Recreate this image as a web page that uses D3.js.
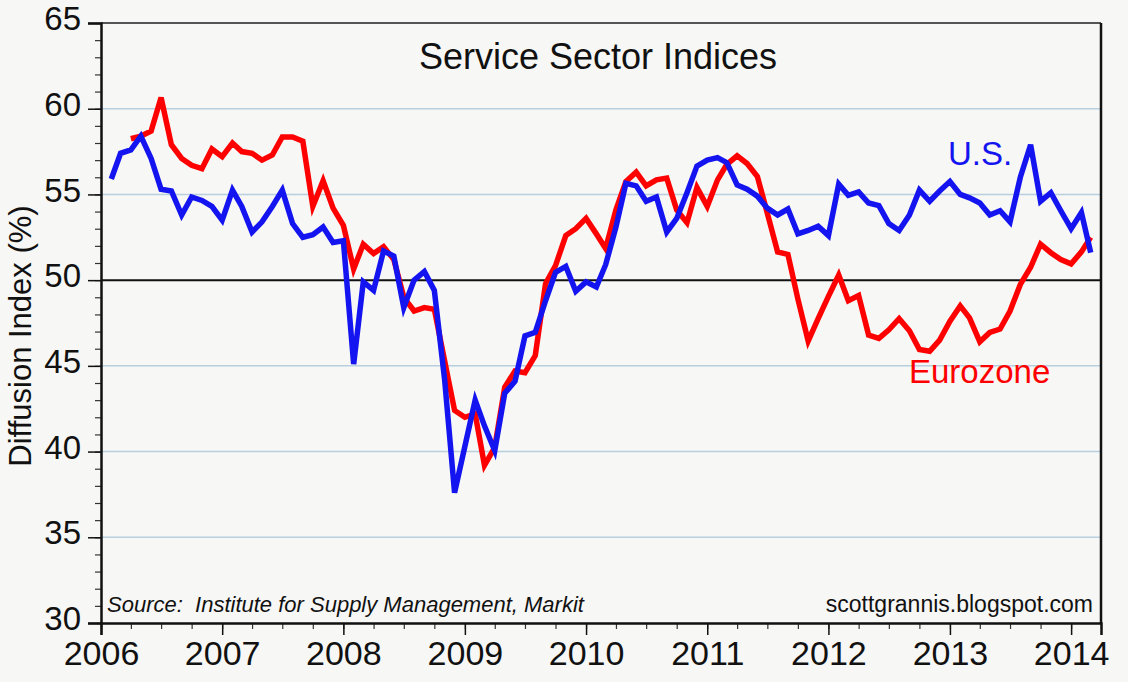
<!DOCTYPE html>
<html>
<head>
<meta charset="utf-8">
<script src="https://cdn.jsdelivr.net/npm/d3@7"></script>
<style>
  body { margin: 0; background: #f7f7f5; }
  svg { display: block; }
  text { font-family: "Liberation Sans", Arial, sans-serif; }
</style>
</head>
<body>
<div id="chart"></div>
<script>
// monthly readings, first value = Jan 2006
const startMonth = "2006-01";

const usValues = [
  55.9, 57.4, 57.6, 58.4, 57.1, 55.3, 55.2, 53.8, 54.85, 54.65, 54.3, 53.5,
  55.25, 54.3, 52.8, 53.4, 54.3, 55.25, 53.3, 52.5, 52.65, 53.1, 52.2, 52.3,
  45.1, 49.9, 49.4, 51.7, 51.4, 48.4, 50.0, 50.5, 49.4, 44.2, 37.6, 40.3,
  43.0, 41.5, 40.05, 43.4, 44.1, 46.75, 46.95, 48.8, 50.45, 50.8, 49.35, 49.9,
  49.6, 50.9, 53.1, 55.65, 55.5, 54.6, 54.85, 52.8, 53.6, 55.1, 56.65, 57.0,
  57.15, 56.85, 55.55, 55.3, 54.9, 54.2, 53.8, 54.15, 52.7, 52.9, 53.15, 52.6,
  55.6, 54.95, 55.15, 54.5, 54.35, 53.3, 52.9, 53.8, 55.25, 54.6, 55.2, 55.75,
  55.0, 54.8, 54.5, 53.8, 54.05, 53.4, 56.0, 57.9, 54.6, 55.1, 54.05, 53.0,
  53.95, 51.6
];

const ezValues = [
  null, null, 58.25, 58.4, 58.7, 60.65, 57.9, 57.1, 56.7, 56.5, 57.65, 57.2,
  58.0, 57.5, 57.4, 57.0, 57.3, 58.35, 58.35, 58.1, 54.3, 55.8, 54.2, 53.2,
  50.65, 52.1, 51.55, 51.95, 51.2, 49.0, 48.2, 48.4, 48.3, 45.3, 42.4, 42.0,
  42.2, 39.2, 40.25, 43.75, 44.7, 44.6, 45.6, 49.8, 50.85, 52.6, 53.0, 53.6,
  52.7, 51.85, 54.1, 55.75, 56.3, 55.5, 55.85, 55.95, 54.1, 53.35, 55.4, 54.3,
  55.85, 56.75, 57.25, 56.8, 56.05, 53.9, 51.65, 51.5, 48.9, 46.45, 47.75, 49.05,
  50.3, 48.8, 49.1, 46.8, 46.6, 47.1, 47.75, 47.05, 45.95, 45.85, 46.5, 47.6,
  48.5, 47.8, 46.4, 46.95, 47.15, 48.2, 49.75, 50.75, 52.1, 51.6, 51.2, 50.95,
  51.65, 52.5
];

const yTicks = [30, 35, 40, 45, 50, 55, 60, 65];
const yearTicks = [2006, 2007, 2008, 2009, 2010, 2011, 2012, 2013, 2014];

const W = 1128, H = 682;
const margin = {top: 23, right: 27, bottom: 59, left: 101};

const svg = d3.select("#chart").append("svg")
  .attr("width", W).attr("height", H);

svg.append("rect").attr("width", W).attr("height", H).attr("fill", "#f7f7f5");

const parseMonth = d3.timeParse("%Y-%m");
const t0 = parseMonth(startMonth);
// each month plotted at its end
const dateOf = i => d3.timeMonth.offset(t0, i + 1);

const x = d3.scaleTime()
  .domain([new Date(2006, 0, 1), new Date(2014, 3, 1)])
  .range([margin.left, W - margin.right]);

const y = d3.scaleLinear()
  .domain([30, 65])
  .range([H - margin.bottom, margin.top]);

// gridlines
svg.append("g")
  .selectAll("line")
  .data(yTicks.filter(v => v !== 50 && v !== 30 && v !== 65))
  .join("line")
  .attr("x1", x.range()[0]).attr("x2", x.range()[1])
  .attr("y1", d => y(d)).attr("y2", d => y(d))
  .attr("stroke", "#b8cfe0").attr("stroke-width", 1.5);

// frame top / right
svg.append("line")
  .attr("x1", x.range()[0]).attr("x2", x.range()[1])
  .attr("y1", y(65)).attr("y2", y(65))
  .attr("stroke", "#555").attr("stroke-width", 2);
svg.append("line")
  .attr("x1", x.range()[1]).attr("x2", x.range()[1])
  .attr("y1", y(65)).attr("y2", y(30))
  .attr("stroke", "#111").attr("stroke-width", 2.5);

// 50 line
svg.append("line")
  .attr("x1", x.range()[0]).attr("x2", x.range()[1])
  .attr("y1", y(50)).attr("y2", y(50))
  .attr("stroke", "#111").attr("stroke-width", 2);

// y axis: minor ticks then major
svg.append("g")
  .attr("transform", `translate(${margin.left},0)`)
  .call(d3.axisLeft(y).tickValues(d3.range(30, 66, 1)).tickSize(6).tickFormat(""))
  .call(g => g.select(".domain").remove())
  .call(g => g.selectAll("line").attr("stroke", "#333").attr("stroke-width", 1.2));

const yAxis = svg.append("g")
  .attr("transform", `translate(${margin.left},0)`)
  .call(d3.axisLeft(y).tickValues(yTicks).tickSize(13).tickPadding(7).tickFormat(d3.format("d")));
yAxis.select(".domain").attr("stroke", "#111").attr("stroke-width", 2.5);
yAxis.selectAll("line").attr("stroke", "#111").attr("stroke-width", 1.5);
yAxis.selectAll("text")
  .attr("font-size", 33).attr("fill", "#111").attr("dy", "0.2em")
  .attr("font-family", "Liberation Sans, Arial, sans-serif");

// x axis: quarter ticks, then years
const quarters = d3.timeMonth.every(3).range(new Date(2006, 0, 1), new Date(2014, 3, 2));
svg.append("g")
  .attr("transform", `translate(0,${y(30)})`)
  .call(d3.axisBottom(x).tickValues(quarters).tickSize(6).tickFormat(""))
  .call(g => g.select(".domain").remove())
  .call(g => g.selectAll("line").attr("stroke", "#333").attr("stroke-width", 1.2));

const xAxis = svg.append("g")
  .attr("transform", `translate(0,${y(30)})`)
  .call(d3.axisBottom(x)
    .tickValues(yearTicks.map(yr => new Date(yr, 0, 1)))
    .tickSize(12).tickPadding(6)
    .tickFormat(d3.timeFormat("%Y")));
xAxis.select(".domain").attr("stroke", "#111").attr("stroke-width", 2.5);
xAxis.selectAll("line").attr("stroke", "#111").attr("stroke-width", 1.5);
xAxis.selectAll("text")
  .attr("font-size", 34).attr("fill", "#111")
  .attr("font-family", "Liberation Sans, Arial, sans-serif");

// series
const line = d3.line()
  .defined(d => d.v != null)
  .x(d => x(d.date))
  .y(d => y(d.v));

const ezData = ezValues.map((v, i) => ({date: dateOf(i), v}));
const usData = usValues.map((v, i) => ({date: dateOf(i), v}));

svg.append("path")
  .datum(ezData)
  .attr("fill", "none")
  .attr("stroke", "#ff0000")
  .attr("stroke-width", 5.5)
  .attr("stroke-linejoin", "miter")
  .attr("d", line);

svg.append("path")
  .datum(usData)
  .attr("fill", "none")
  .attr("stroke", "#1414f0")
  .attr("stroke-width", 5.5)
  .attr("stroke-linejoin", "miter")
  .attr("d", line);

// labels
svg.append("text")
  .attr("x", 598).attr("y", 69)
  .attr("text-anchor", "middle")
  .attr("font-size", 36).attr("fill", "#111")
  .text("Service Sector Indices");

svg.append("text")
  .attr("x", 948).attr("y", 165)
  .attr("font-size", 33).attr("fill", "#1414f0")
  .text("U.S.");

svg.append("text")
  .attr("x", 909).attr("y", 383)
  .attr("font-size", 33).attr("fill", "#ff0000")
  .text("Eurozone");

svg.append("text")
  .attr("transform", "translate(31,336) rotate(-90)")
  .attr("text-anchor", "middle")
  .attr("font-size", 31).attr("fill", "#111")
  .text("Diffusion Index (%)");

svg.append("text")
  .attr("x", 107).attr("y", 612)
  .attr("font-size", 22).attr("font-style", "italic").attr("fill", "#111")
  .attr("xml:space", "preserve")
  .text("Source:  Institute for Supply Management, Markit");

svg.append("text")
  .attr("x", 1093).attr("y", 612)
  .attr("text-anchor", "end")
  .attr("font-size", 23).attr("fill", "#111")
  .text("scottgrannis.blogspot.com");
</script>
</body>
</html>
